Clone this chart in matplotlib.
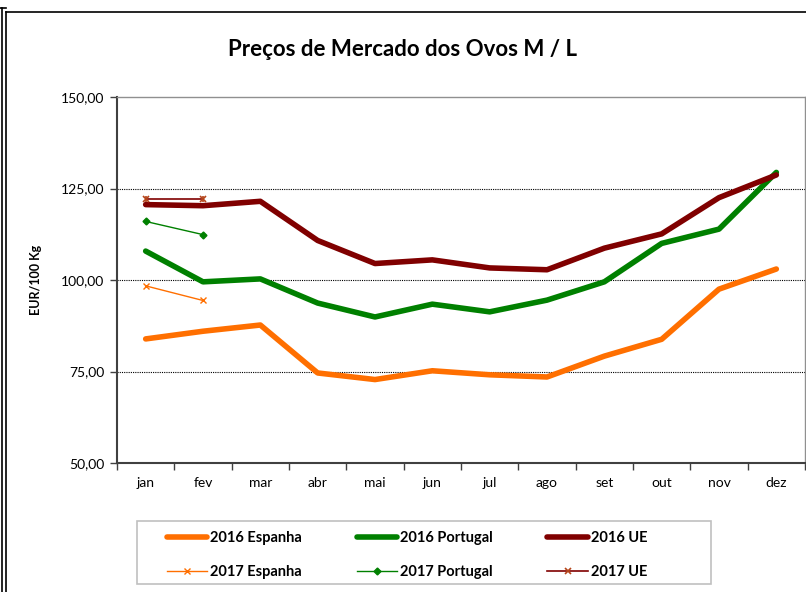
import matplotlib
matplotlib.use('Agg')
import matplotlib.pyplot as plt
from matplotlib.lines import Line2D
from matplotlib.patches import Rectangle
from matplotlib.ticker import FuncFormatter, FixedLocator

plt.rcParams['font.family'] = ['Lato', 'DejaVu Sans']

meses = ['jan', 'fev', 'mar', 'abr', 'mai', 'jun', 'jul', 'ago', 'set', 'out', 'nov', 'dez']

espanha_2016 = [83.9, 86.0, 87.7, 74.6, 72.8, 75.2, 74.1, 73.5, 79.2, 83.8, 97.5, 103.0]
portugal_2016 = [107.9, 99.5, 100.3, 93.7, 89.9, 93.4, 91.3, 94.5, 99.5, 110.0, 113.9, 129.4]
ue_2016 = [120.6, 120.3, 121.5, 110.8, 104.5, 105.5, 103.3, 102.8, 108.7, 112.6, 122.5, 128.7]

espanha_2017 = [98.4, 94.4]
portugal_2017 = [116.0, 112.4]
ue_2017 = [122.2, 122.2]

c_esp = '#ff6f00'
c_por = '#008000'
c_ue = '#800000'

W, H = 806, 592
fig = plt.figure(figsize=(W/100, H/100), dpi=100)
ax = fig.add_axes([117/W, 1-463/H, 688/W, 366/H])

x16 = list(range(len(meses)))
x17 = list(range(len(espanha_2017)))

l1, = ax.plot(x16, espanha_2016, color=c_esp, lw=4, solid_capstyle='round', solid_joinstyle='round', label='2016 Espanha')
l2, = ax.plot(x16, portugal_2016, color=c_por, lw=4, solid_capstyle='round', solid_joinstyle='round', label='2016 Portugal')
l3, = ax.plot(x16, ue_2016, color=c_ue, lw=4, solid_capstyle='round', solid_joinstyle='round', label='2016 UE')
l4, = ax.plot(x17, espanha_2017, color=c_esp, lw=1, marker='x', ms=5, mew=1, label='2017 Espanha')
l5, = ax.plot(x17, portugal_2017, color=c_por, lw=1, marker='D', ms=3.5, label='2017 Portugal')
l6, = ax.plot(x17, ue_2017, color=c_ue, lw=1.2, marker='x', ms=5, mew=1.2, mec='#b5451b', label='2017 UE')
ax.plot(x17, ue_2017, ls='none', marker='|', ms=5, mew=1.2, color='#b5451b')

ax.set_xlim(-0.5, 11.5)
ax.set_ylim(50, 150)
ax.set_yticks([50, 75, 100, 125, 150])
ax.yaxis.set_major_formatter(FuncFormatter(lambda v, p: ('%.2f' % v).replace('.', ',')))
ax.xaxis.set_major_locator(FixedLocator([i - 0.5 for i in range(13)]))
ax.xaxis.set_minor_locator(FixedLocator(x16))
ax.set_xticklabels([''] * 13)
ax.set_xticklabels(meses, minor=True)
ax.tick_params(axis='x', which='major', direction='out', length=5, width=1, color='#404040')
ax.tick_params(axis='x', which='minor', length=0, pad=10, labelsize=10)
ax.tick_params(axis='y', direction='out', length=5, width=1, color='#404040', labelsize=10, pad=4)

for v in [75, 100, 125]:
    ax.axhline(v, color='black', lw=0.8, ls=(0, (1, 1)), zorder=0)

for s in ['left', 'bottom']:
    ax.spines[s].set_color('#404040')
    ax.spines[s].set_linewidth(1.5)
for s in ['top', 'right']:
    ax.spines[s].set_color('#909090')
    ax.spines[s].set_linewidth(1)

ax.set_ylabel('EUR/100 Kg', fontsize=9, fontweight='bold', labelpad=14)
fig.text(403/W, 1-50/H, 'Preços de Mercado dos Ovos M / L', ha='center', va='center',
         fontsize=16, fontweight='bold')

# legend box
fig.add_artist(Rectangle((137/W, 1-584/H), (711-137)/W, (584-521)/H, transform=fig.transFigure,
                         fill=False, edgecolor='#c0c0c0', lw=1.2))
leg = fig.legend(handles=[l1, l4, l2, l5, l3, l6], ncol=3, loc='center',
                 bbox_to_anchor=(167/W, 1-579/H, 480/W, 48/H), mode='expand',
                 frameon=False, fontsize=10.5, handlelength=2.75,
                 handletextpad=0.2, columnspacing=1.0, borderaxespad=0, labelspacing=1.35,
                 borderpad=0)
for t in leg.get_texts():
    t.set_fontweight('bold')

# outer frame lines
fig.add_artist(Line2D([2/W, 2/W], [0, 1-8/H], color='black', lw=1.2))
fig.add_artist(Line2D([6/W, 6/W], [0, 1-12/H], color='black', lw=1.2))
fig.add_artist(Line2D([6/W, 1], [1-12/H, 1-12/H], color='black', lw=1.2))
fig.add_artist(Line2D([0, 6/W], [1-8/H, 1-8/H], color='black', lw=1.2))

fig.savefig('out.png', dpi=100)
